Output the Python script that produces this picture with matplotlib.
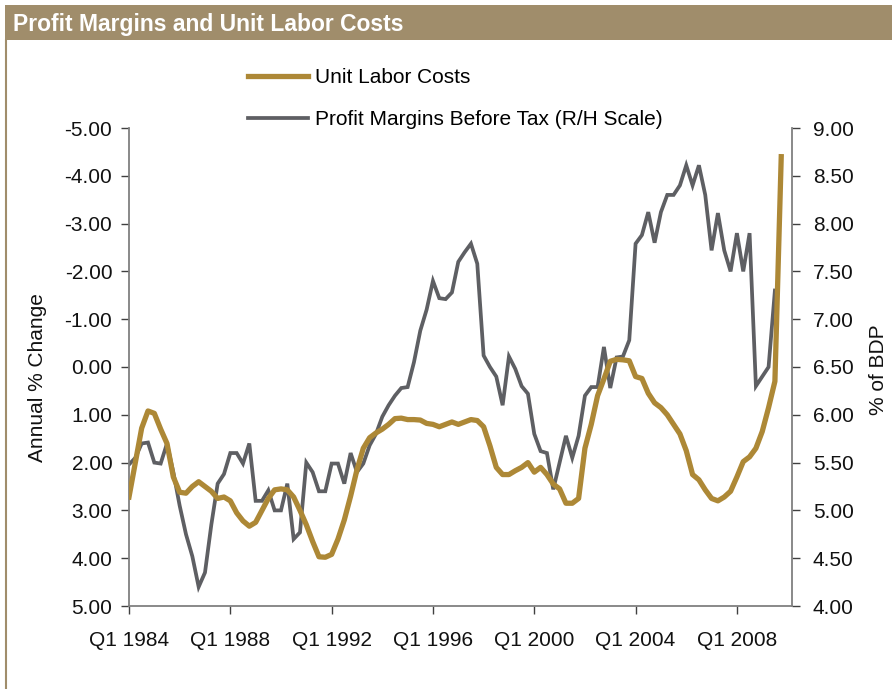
import matplotlib
matplotlib.use("Agg")
import matplotlib.pyplot as plt
from matplotlib.patches import Rectangle
from matplotlib.lines import Line2D

plt.rcParams['font.family'] = ['Liberation Sans Narrow', 'Liberation Sans', 'DejaVu Sans']

# quarterly data, Q1 1984 onwards
unit_labor_costs = [
    2.72, 2.00, 1.28, 0.92, 0.97, 1.30, 1.60, 2.30, 2.62, 2.64,
    2.50, 2.40, 2.50, 2.60, 2.75, 2.72, 2.80, 3.05, 3.22, 3.33,
    3.25, 3.00, 2.75, 2.57, 2.55, 2.57, 2.72, 3.00, 3.30, 3.65,
    3.97, 3.98, 3.92, 3.60, 3.20, 2.70, 2.15, 1.70, 1.48, 1.38,
    1.30, 1.20, 1.08, 1.07, 1.10, 1.10, 1.11, 1.18, 1.20, 1.25,
    1.20, 1.15, 1.20, 1.15, 1.10, 1.12, 1.25, 1.65, 2.10, 2.25,
    2.25, 2.17, 2.10, 2.00, 2.20, 2.10, 2.25, 2.45, 2.55, 2.85,
    2.85, 2.75, 1.70, 1.20, 0.60, 0.25, -0.12, -0.16, -0.15, -0.13,
    0.20, 0.24, 0.55, 0.75, 0.85, 1.00, 1.20, 1.40, 1.75, 2.25,
    2.36, 2.57, 2.75, 2.80, 2.72, 2.60, 2.30, 1.98, 1.88, 1.70,
    1.35, 0.85, 0.30, -4.40,
]
profit_margins = [
    5.48, 5.55, 5.70, 5.71, 5.50, 5.49, 5.70, 5.40, 5.05, 4.75,
    4.52, 4.20, 4.35, 4.85, 5.28, 5.38, 5.60, 5.60, 5.49, 5.70,
    5.10, 5.10, 5.21, 5.00, 5.00, 5.28, 4.70, 4.77, 5.50, 5.40,
    5.20, 5.20, 5.49, 5.49, 5.28, 5.60, 5.40, 5.49, 5.68, 5.80,
    5.98, 6.10, 6.20, 6.28, 6.29, 6.55, 6.88, 7.10, 7.40, 7.22,
    7.21, 7.28, 7.60, 7.70, 7.79, 7.58, 6.62, 6.50, 6.40, 6.10,
    6.61, 6.48, 6.30, 6.22, 5.80, 5.62, 5.60, 5.22, 5.50, 5.78,
    5.55, 5.78, 6.20, 6.29, 6.29, 6.71, 6.28, 6.60, 6.61, 6.78,
    7.79, 7.88, 8.12, 7.80, 8.12, 8.30, 8.30, 8.40, 8.61, 8.40,
    8.61, 8.30, 7.72, 8.11, 7.72, 7.50, 7.90, 7.50, 7.90, 6.30,
    6.40, 6.50, 7.30,
]
tick_quarters = [0, 16, 32, 48, 64, 80, 96]
tick_labels = ["Q1 1984", "Q1 1988", "Q1 1992", "Q1 1996", "Q1 2000", "Q1 2004", "Q1 2008"]

gold = "#AD8836"
grey = "#5E5F63"
band = "#A08D6B"
spine_col = "#808080"

fig = plt.figure(figsize=(8.92, 6.89), dpi=100)

# title band and left frame line
fig.patches.append(Rectangle((5 / 892, 1 - 40 / 689), 1, 35 / 689, transform=fig.transFigure,
                             facecolor=band, edgecolor="none", zorder=0))
fig.lines.append(Line2D([6 / 892, 6 / 892], [0, 1 - 40 / 689], transform=fig.transFigure,
                        color=band, lw=1.5))
fig.text(13 / 892, 1 - 24 / 689, "Profit Margins and Unit Labor Costs", color="white",
         fontsize=16.5, fontweight="bold", va="center", ha="left")

ax = fig.add_axes([129 / 892, 1 - 606 / 689, (792 - 129) / 892, (606 - 128) / 689])
ax2 = ax.twinx()

x_ulc = list(range(len(unit_labor_costs)))
x_pm = list(range(len(profit_margins)))
l1, = ax.plot(x_ulc, unit_labor_costs, color=gold, lw=3.8, solid_joinstyle="round", zorder=3)
l2, = ax2.plot(x_pm, profit_margins, color=grey, lw=2.7, solid_joinstyle="miter", zorder=2)
ax.set_zorder(ax2.get_zorder() + 1)
ax.patch.set_visible(False)

ax.set_xlim(0, 104.7)
ax.set_ylim(5, -5)
ax2.set_ylim(4, 9)

lticks = [-5, -4, -3, -2, -1, 0, 1, 2, 3, 4, 5]
ax.set_yticks(lticks)
ax.set_yticklabels([f"{v:.2f}" for v in lticks])
rticks = [4 + 0.5 * k for k in range(11)]
ax2.set_yticks(rticks)
ax2.set_yticklabels([f"{v:.2f}" for v in rticks])
ax.set_xticks(tick_quarters)
ax.set_xticklabels(tick_labels)

for a in (ax, ax2):
    a.spines["top"].set_visible(False)
    for s in ("left", "right", "bottom"):
        a.spines[s].set_color(spine_col)
        a.spines[s].set_linewidth(1.3)
ax.spines["right"].set_visible(False)
ax2.spines["left"].set_visible(False)
ax2.spines["bottom"].set_visible(False)

ax.tick_params(axis="y", direction="out", length=6, width=1, color="#404040",
               labelsize=15, pad=6, labelcolor="#111111")
ax.tick_params(axis="x", direction="out", length=6, width=1, color="#404040",
               labelsize=15, pad=12, labelcolor="#111111")
ax2.tick_params(axis="y", direction="out", length=6, width=1, color="#404040",
                labelsize=15, pad=9, labelcolor="#111111")

fig.text(38 / 892, 1 - 378 / 689, "Annual % Change", rotation=90, fontsize=15,
         ha="center", va="center", color="#111111")
fig.text(879 / 892, 1 - 370 / 689, "% of BDP", rotation=90, fontsize=15,
         ha="center", va="center", color="#111111")

fig.legend([l1, l2], ["Unit Labor Costs", "Profit Margins Before Tax (R/H Scale)"],
           loc="upper left", bbox_to_anchor=(248 / 892, 1 - 68 / 689), frameon=False,
           fontsize=15, handlelength=2.9, handletextpad=0.3, labelspacing=1.1,
           borderpad=0, borderaxespad=0)

fig.savefig("out.png", dpi=100)
